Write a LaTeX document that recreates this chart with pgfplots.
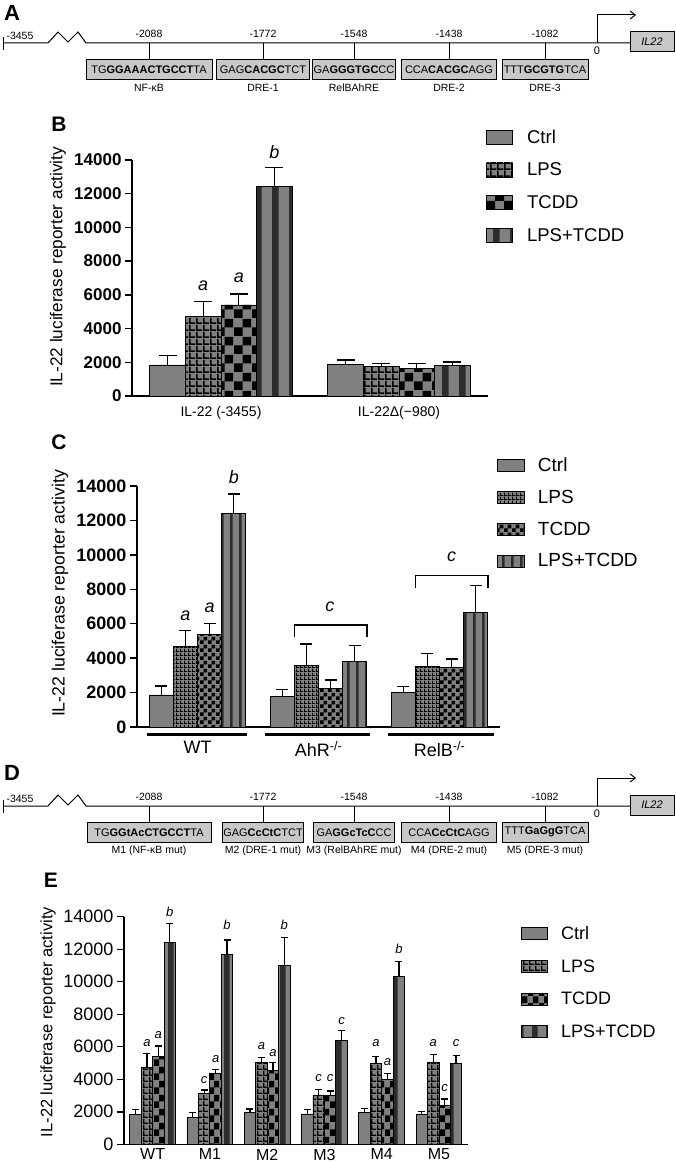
\documentclass[border=0pt]{standalone}
\usepackage{pgfplots}
\pgfplotsset{compat=1.18}
\usepackage{fontspec}
\setmainfont{Liberation Sans}
\usetikzlibrary{patterns,arrows.meta}
\definecolor{barg}{RGB}{128,128,128}
\definecolor{boxg}{RGB}{200,200,200}
\newcommand\fs[1]{\fontsize{#1}{#1}\selectfont}
% patterns panel B
\pgfdeclarepatternformonly{gridB}{\pgfpointorigin}{\pgfqpoint{7pt}{7pt}}{\pgfqpoint{7pt}{7pt}}{%
 \pgfpathrectangle{\pgfpointorigin}{\pgfqpoint{7pt}{1.8pt}}%
 \pgfpathrectangle{\pgfpointorigin}{\pgfqpoint{1.8pt}{7pt}}\pgfusepath{fill}}
\pgfdeclarepatternformonly{checkB}{\pgfpointorigin}{\pgfqpoint{18pt}{18pt}}{\pgfqpoint{18pt}{18pt}}{%
 \pgfpathrectangle{\pgfpointorigin}{\pgfqpoint{9pt}{9pt}}%
 \pgfpathrectangle{\pgfqpoint{9pt}{9pt}}{\pgfqpoint{9pt}{9pt}}\pgfusepath{fill}}
\pgfdeclarepatternformonly{stripeB}{\pgfpointorigin}{\pgfqpoint{17pt}{1pt}}{\pgfqpoint{17pt}{1pt}}{%
 \pgfpathrectangle{\pgfpointorigin}{\pgfqpoint{7pt}{1pt}}\pgfusepath{fill}}
% patterns panel C
\pgfdeclarepatternformonly{gridC}{\pgfpointorigin}{\pgfqpoint{4pt}{4pt}}{\pgfqpoint{4pt}{4pt}}{%
 \pgfpathrectangle{\pgfpointorigin}{\pgfqpoint{4pt}{1.1pt}}%
 \pgfpathrectangle{\pgfpointorigin}{\pgfqpoint{1.1pt}{4pt}}\pgfusepath{fill}}
\pgfdeclarepatternformonly{checkC}{\pgfpointorigin}{\pgfqpoint{8pt}{8pt}}{\pgfqpoint{8pt}{8pt}}{%
 \pgfpathrectangle{\pgfpointorigin}{\pgfqpoint{4pt}{4pt}}%
 \pgfpathrectangle{\pgfqpoint{4pt}{4pt}}{\pgfqpoint{4pt}{4pt}}\pgfusepath{fill}}
\pgfdeclarepatternformonly{stripeC}{\pgfpointorigin}{\pgfqpoint{8.5pt}{1pt}}{\pgfqpoint{8.5pt}{1pt}}{%
 \pgfpathrectangle{\pgfpointorigin}{\pgfqpoint{2.8pt}{1pt}}\pgfusepath{fill}}
% patterns panel E
\pgfdeclarepatternformonly{gridE}{\pgfpointorigin}{\pgfqpoint{5.5pt}{5.5pt}}{\pgfqpoint{5.5pt}{5.5pt}}{%
 \pgfpathrectangle{\pgfpointorigin}{\pgfqpoint{5.5pt}{1.5pt}}%
 \pgfpathrectangle{\pgfpointorigin}{\pgfqpoint{1.5pt}{5.5pt}}\pgfusepath{fill}}
\pgfdeclarepatternformonly{checkE}{\pgfpointorigin}{\pgfqpoint{11pt}{14pt}}{\pgfqpoint{11pt}{14pt}}{%
 \pgfpathrectangle{\pgfpointorigin}{\pgfqpoint{5.5pt}{7pt}}%
 \pgfpathrectangle{\pgfqpoint{5.5pt}{7pt}}{\pgfqpoint{5.5pt}{7pt}}\pgfusepath{fill}}
\pgfdeclarepatternformonly{stripeE}{\pgfpointorigin}{\pgfqpoint{14pt}{1pt}}{\pgfqpoint{14pt}{1pt}}{%
 \pgfpathrectangle{\pgfpointorigin}{\pgfqpoint{6pt}{1pt}}\pgfusepath{fill}}

\pgfplotsset{
 panel/.style={
  scale only axis, axis lines*=left, ybar,
  ymin=0, ymax=14000, ytick={0,2000,...,14000}, scaled y ticks=false,
  axis line style={line width=1.4pt},
  ytick style={line width=1.4pt, black}, major tick length=7pt, tick align=outside,
  xtick style={draw=none},
  /pgf/number format/1000 sep={}, /pgf/number format/assume math mode=true,
  clip=false, bar width=0.2,
  error bars/y dir=plus, error bars/y explicit,
  error bars/error bar style={line width=1.3pt, draw=black, solid},
  legend cell align=left,
 },
 bbar/.style={fill=barg, draw=black, line width=0.9pt},
}
\newcommand\site[6]{%
 \draw (#1,43+#2) -- (#1,59+#2);
 \node[font=\fs{10.5}] at (#1,34+#2) {#3};
 \node[draw, fill=boxg, line width=1pt, minimum width=#4pt, minimum height=20pt, inner sep=0pt, font=\fs{11}] at (#1,69.3+#2) {#5};
 \node[font=\fs{10.5}] at (#1,88+#2) {#6};}
\newcommand\promoter[1]{%
 \draw (3,37+#1) -- (3,50+#1);
 \draw (3,43+#1) -- (48,43+#1) -- (58,32+#1) -- (68,42+#1) -- (78,32+#1) -- (86,43+#1) -- (630,43+#1);
 \node[font=\fs{10.5}] at (20,36+#1) {-3455};
 \draw[-{Straight Barb[length=5pt,width=8pt]}] (597,43+#1) -- (597,15+#1) -- (636,15+#1);
 \node[font=\fs{11}] at (597,51+#1) {0};
 \node[draw, fill=boxg, line width=1pt, minimum width=44pt, minimum height=20pt, inner sep=0pt, font=\fs{11}\itshape] at (652,42+#1) {IL22};}

\begin{document}
\begin{tikzpicture}
\useasboundingbox (0pt,0pt) rectangle (675pt,-1164pt);
\begin{scope}[x=1pt,y=-1pt,line width=1pt]
 \node[font=\fs{22}\bfseries] at (12,13) {A};
 \promoter{0}
 \site{149}{0}{-2088}{126}{TG\textbf{GGAAACTGCCT}TA}{NF-κB}
 \site{263}{0}{-1772}{93}{GAG\textbf{CACGC}TCT}{DRE-1}
 \site{354}{0}{-1548}{83}{GA\textbf{GGGTGC}CC}{RelBAhRE}
 \site{449}{0}{-1438}{95}{CCA\textbf{CACGC}AGG}{DRE-2}
 \site{545}{0}{-1082}{86}{TTT\textbf{GCGTG}TCA}{DRE-3}
 \node[font=\fs{22}\bfseries] at (12,773) {D};
 \promoter{763}
 \site{149}{763}{-2088}{124}{TG\textbf{GGtAcCTGCCT}TA}{M1 (NF-κB mut)}
 \site{263}{763}{-1772}{81}{GAG\textbf{CcCtC}TCT}{M2 (DRE-1 mut)}
 \site{354}{763}{-1548}{81}{GA\textbf{GGcTcC}CC}{M3 (RelBAhRE mut)}
 \site{449}{763}{-1438}{95}{CCA\textbf{CcCtC}AGG}{M4 (DRE-2 mut)}
 \site{545}{763}{-1082}{86}{TTT\textbf{GaGgG}TCA}{M5 (DRE-3 mut)}
 \node[font=\fs{21}\bfseries] at (59,124) {B};
 \node[font=\fs{21}\bfseries] at (59,442) {C};
 \node[font=\fs{21}\bfseries] at (51,880) {E};
\end{scope}

% ---------------- Panel B
\begin{axis}[panel, at={(132pt,-396pt)}, anchor=south west, width=356pt, height=236pt,
  xmin=-0.5, xmax=1.5, xtick={0,1}, xticklabels={IL-22 (-3455), IL-22Δ(−980)},
  xticklabel style={font=\fs{14}},
  yticklabel style={font=\fs{17}\bfseries},
  ylabel={IL-22 luciferase reporter activity},
  ylabel style={at={(rel axis cs:-0.208,0.547)}, anchor=center, font=\fs{17.2}},
  error bars/error mark options={rotate=90, draw=black, mark size=9pt, line width=1.3pt},
  legend image code/.code={\draw[#1] (0pt,-7pt) rectangle (26pt,7pt);},
  legend style={at={(rel axis cs:0.986,1.138)}, anchor=north west, draw=none, fill=none,
    font=\fs{18.5}, row sep=18pt, column sep=14pt, nodes={inner sep=0pt}},
]
\addplot[bbar, bar shift=-0.3] coordinates {(0,1840) +- (0,550) (1,1880) +- (0,255)};
\addplot[bbar, bar shift=-0.1, postaction={pattern=gridB}] coordinates {(0,4700) +- (0,890) (1,1740) +- (0,200)};
\addplot[bbar, bar shift=0.1, postaction={pattern=checkB}] coordinates {(0,5400) +- (0,650) (1,1640) +- (0,300)};
\addplot[bbar, bar shift=0.3, postaction={pattern=stripeB}] coordinates {(0,12410) +- (0,1150) (1,1800) +- (0,220)};
\legend{Ctrl,LPS,TCDD,LPS+TCDD}
\node[font=\fs{18}\itshape] at (axis cs:-0.1,6525) {a};
\node[font=\fs{18}\itshape] at (axis cs:0.1,7000) {a};
\node[font=\fs{18}\itshape] at (axis cs:0.3,14492) {b};
\end{axis}

% ---------------- Panel C
\begin{axis}[panel, at={(137pt,-727pt)}, anchor=south west, width=363pt, height=241pt,
  xmin=-0.5, xmax=2.5, xtick={0,1,2}, xticklabels={WT, AhR\textsuperscript{-/-}, RelB\textsuperscript{-/-}},
  xticklabel style={font=\fs{18}, yshift=-4pt},
  yticklabel style={font=\fs{18}\bfseries},
  ylabel={IL-22 luciferase reporter activity},
  ylabel style={at={(rel axis cs:-0.212,0.554)}, anchor=center, font=\fs{17.7}},
  error bars/error mark options={rotate=90, draw=black, mark size=6pt, line width=1.3pt},
  legend image code/.code={\draw[#1] (0pt,-6pt) rectangle (27pt,6pt);},
  legend style={at={(rel axis cs:0.983,1.126)}, anchor=north west, draw=none, fill=none,
    font=\fs{19}, row sep=17pt, column sep=13pt, nodes={inner sep=0pt}},
]
\addplot[bbar, bar shift=-0.3] coordinates {(0,1860) +- (0,520) (1,1800) +- (0,390) (2,2020) +- (0,320)};
\addplot[bbar, bar shift=-0.1, postaction={pattern=gridC}] coordinates {(0,4670) +- (0,930) (1,3560) +- (0,1270) (2,3500) +- (0,780)};
\addplot[bbar, bar shift=0.1, postaction={pattern=checkC}] coordinates {(0,5390) +- (0,620) (1,2250) +- (0,480) (2,3470) +- (0,480)};
\addplot[bbar, bar shift=0.3, postaction={pattern=stripeC}] coordinates {(0,12380) +- (0,1150) (1,3800) +- (0,930) (2,6650) +- (0,1560)};
\legend{Ctrl,LPS,TCDD,LPS+TCDD}
\node[font=\fs{18}\itshape] at (axis cs:-0.1,6448) {a};
\node[font=\fs{18}\itshape] at (axis cs:0.1,6913) {a};
\node[font=\fs{18}\itshape] at (axis cs:0.3,14523) {b};
\draw[line width=1.2pt] (axis cs:0.8,5246) -- (axis cs:0.8,5925) -- (axis cs:1.4,5925) -- (axis cs:1.4,5246);
\node[font=\fs{18}\itshape] at (axis cs:1.095,6988) {c};
\draw[line width=1.2pt] (axis cs:1.8,8075) -- (axis cs:1.8,8789) -- (axis cs:2.4,8789) -- (axis cs:2.4,8075);
\node[font=\fs{18}\itshape] at (axis cs:2.1,9876) {c};
\draw[line width=3pt] (axis cs:-0.417,-407) -- (axis cs:0.409,-407);
\draw[line width=3pt] (axis cs:0.558,-407) -- (axis cs:1.425,-407);
\draw[line width=3pt] (axis cs:1.574,-407) -- (axis cs:2.45,-407);
\end{axis}

% ---------------- Panel E
\begin{axis}[panel, at={(124pt,-1144.3pt)}, anchor=south west, width=343.6pt, height=227.6pt,
  xmin=-0.5, xmax=5.5, xtick={0,1,2,3,4,5}, xticklabels={WT,M1,M2,M3,M4,M5},
  xticklabel style={font=\fs{16}, yshift=6pt},
  yticklabel style={font=\fs{18}},
  ylabel={IL-22 luciferase reporter activity},
  ylabel style={at={(rel axis cs:-0.221,0.537)}, anchor=center, font=\fs{16.5}},
  error bars/error mark options={rotate=90, draw=black, mark size=3.5pt, line width=1.3pt},
  legend image code/.code={\draw[#1] (0pt,-6pt) rectangle (26pt,6pt);},
  legend style={at={(rel axis cs:1.147,0.966)}, anchor=north west, draw=none, fill=none,
    font=\fs{18}, row sep=18.5pt, column sep=13pt, nodes={inner sep=0pt}},
]
\addplot[bbar, bar shift=-0.3] coordinates {(0,1846) +- (0,308) (1,1662) +- (0,308) (2,1970) +- (0,202) (3,1865) +- (0,289) (4,1970) +- (0,245) (5,1846) +- (0,160)};
\addplot[bbar, bar shift=-0.1, postaction={pattern=gridE}] coordinates {(0,4738) +- (0,862) (1,3138) +- (0,202) (2,5022) +- (0,332) (3,3034) +- (0,351) (4,4985) +- (0,405) (5,5046) +- (0,492)};
\addplot[bbar, bar shift=0.1, postaction={pattern=checkE}] coordinates {(0,5390) +- (0,660) (1,4370) +- (0,245) (2,4530) +- (0,492) (3,2990) +- (0,290) (4,4000) +- (0,370) (5,2375) +- (0,415)};
\addplot[bbar, bar shift=0.3, postaction={pattern=stripeE}] coordinates {(0,12406) +- (0,1194) (1,11650) +- (0,922) (2,10990) +- (0,1748) (3,6375) +- (0,615) (4,10314) +- (0,923) (5,4985) +- (0,467)};
\legend{Ctrl,LPS,TCDD,LPS+TCDD}
\node[font=\fs{13}\itshape] at (axis cs:-0.1,6213) {a};
\node[font=\fs{13}\itshape] at (axis cs:0.1,6723) {a};
\node[font=\fs{13}\itshape] at (axis cs:0.3,14307) {b};
\node[font=\fs{13}\itshape] at (axis cs:0.9,3955) {c};
\node[font=\fs{13}\itshape] at (axis cs:1.1,5247) {a};
\node[font=\fs{13}\itshape] at (axis cs:1.3,13489) {b};
\node[font=\fs{13}\itshape] at (axis cs:1.9,6046) {a};
\node[font=\fs{13}\itshape] at (axis cs:2.1,5597) {a};
\node[font=\fs{13}\itshape] at (axis cs:2.3,13489) {b};
\node[font=\fs{13}\itshape] at (axis cs:2.9,4060) {c};
\node[font=\fs{13}\itshape] at (axis cs:3.1,4060) {c};
\node[font=\fs{13}\itshape] at (axis cs:3.3,7584) {c};
\node[font=\fs{13}\itshape] at (axis cs:3.9,6213) {a};
\node[font=\fs{13}\itshape] at (axis cs:4.1,5081) {a};
\node[font=\fs{13}\itshape] at (axis cs:4.3,11995) {b};
\node[font=\fs{13}\itshape] at (axis cs:4.9,6250) {a};
\node[font=\fs{13}\itshape] at (axis cs:5.1,3482) {c};
\node[font=\fs{13}\itshape] at (axis cs:5.3,6213) {c};
\end{axis}
\end{tikzpicture}
\end{document}
